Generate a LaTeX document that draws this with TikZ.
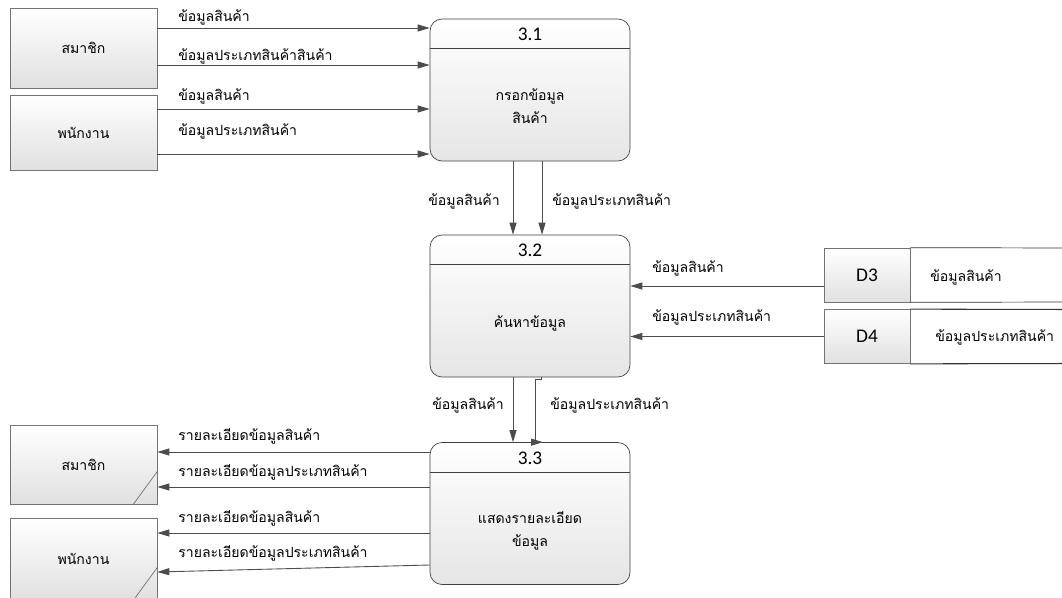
\documentclass[tikz,border=0pt]{standalone}
\usepackage{fontspec}
\setmainfont{Carlito}
\newfontfamily\thai[Script=Thai]{Loma}
\usetikzlibrary{arrows.meta,calc}

\tikzset{
  entity/.style={draw=black!55, top color=white, bottom color=black!12, minimum width=2.94cm, inner sep=0pt, font=\thai\fontsize{8}{10}\selectfont},
  proc/.style={draw=black!75, rounded corners=0.24cm, top color=white, bottom color=black!10, minimum width=4cm, minimum height=2.84cm},
  store/.style={draw=black!55, top color=white, bottom color=black!12, minimum width=1.72cm, minimum height=1.08cm, inner sep=0pt, font=\fontsize{11}{13}\selectfont},
  pnum/.style={font=\fontsize{11}{13}\selectfont, inner sep=0pt},
  ptext/.style={font=\thai\fontsize{8}{13}\selectfont, align=center, inner sep=0pt},
  flow/.style={draw=black!70, line width=0.5pt, -{Triangle[length=0.24cm, width=0.14cm]}},
  lbl/.style={font=\thai\fontsize{8}{10}\selectfont, anchor=west, inner sep=0pt},
}

\begin{document}
\begin{tikzpicture}[x=0.02cm, y=-0.02cm]
  \useasboundingbox (0,0) rectangle (1062,598);

  %%%%% ENTITIES %%%%%
  \node[entity, minimum height=1.6cm] (m1) at (83.5,48) {สมาชิก};
  \node[entity, minimum height=1.5cm] (e1) at (83.5,132.5) {พนักงาน};
  \node[entity, minimum height=1.58cm] (m2) at (83.5,464.5) {สมาชิก};
  \node[entity, minimum height=1.64cm] (e2) at (83.5,559) {พนักงาน};
  \draw[black!55] ($(m2.south east)+(-24,0)$) -- ($(m2.south east)+(0,-33)$);
  \draw[black!55] ($(e2.south east)+(-24,0)$) -- ($(e2.south east)+(0,-33)$);

  %%%%% PROCESSES %%%%%
  \node[proc] (p31) at (530,90) {};
  \node[proc] (p32) at (530,306) {};
  \node[proc] (p33) at (530,513.5) {};
  \foreach \p/\n in {p31/3.1, p32/3.2, p33/3.3} {
    \draw[black!75] ($(\p.north west)+(0,30)$) -- ($(\p.north east)+(0,30)$);
    \node[pnum] at ($(\p.north)+(0,16)$) {\n};
  }
  \node[ptext] (t31) at ($(p31.center)+(0,16)$) {กรอกข้อมูล\\สินค้า};
  \node[ptext] (t32) at ($(p32.center)+(0,17)$) {ค้นหาข้อมูล};
  \node[ptext] (t33) at ($(p33.center)+(0,17)$) {แสดงรายละเอียด\\ข้อมูล};

  %%%%% DATA STORES %%%%%
  \node[store] (d3) at (867,275) {D3};
  \node[store] (d4) at (867,336.5) {D4};
  \draw[black!80] (d3.north east) -- (1070,248) (d3.south east) -- (1070,302);
  \draw[black!80, line width=0.6pt] (d4.north east) -- (1070,309.5) (d4.south east) -- (1070,363.5);
  \node[lbl] (d3t) at (930,277) {ข้อมูลสินค้า};
  \node[lbl] (d4t) at (935,337) {ข้อมูลประเภทสินค้า};

  %%%%% FLOWS INTO 3.1 %%%%%
  \draw[flow] (m1.east |- 0,28) -- (p31.west |- 0,28);
  \draw[flow] (m1.east |- 0,65) -- (p31.west |- 0,65);
  \draw[flow] (e1.east |- 0,109) -- (p31.west |- 0,109);
  \draw[flow] (e1.east |- 0,154) -- (p31.west |- 0,154);
  \node[lbl] at (178,17) {ข้อมูลสินค้า};
  \node[lbl] at (178,56) {ข้อมูลประเภทสินค้าสินค้า};
  \node[lbl] at (178,96) {ข้อมูลสินค้า};
  \node[lbl] at (178,131) {ข้อมูลประเภทสินค้า};

  %%%%% 3.1 -> 3.2 %%%%%
  \draw[flow] (p31.south -| 513,0) -- (p32.north -| 513,0);
  \draw[flow] (p31.south -| 542,0) -- (p32.north -| 542,0);
  \node[lbl] at (428,201) {ข้อมูลสินค้า};
  \node[lbl] at (552,201) {ข้อมูลประเภทสินค้า};

  %%%%% STORES -> 3.2 %%%%%
  \draw[flow] (d3.west |- 0,286) -- (p32.east |- 0,286);
  \draw[flow] (d4.west) -- (p32.east |- d4.west);
  \node[lbl] at (652,268) {ข้อมูลสินค้า};
  \node[lbl] at (652,317) {ข้อมูลประเภทสินค้า};

  %%%%% 3.2 -> 3.3 %%%%%
  \draw[flow] (p32.south -| 513,0) -- (p33.north -| 513,0);
  \draw[flow] (p32.south -| 541,0) -- ++(0,2) -- ++(-6,0) |- (p33.north -| 543,0);
  \node[lbl] at (432,405) {ข้อมูลสินค้า};
  \node[lbl] at (550,405) {ข้อมูลประเภทสินค้า};

  %%%%% 3.3 -> ENTITIES %%%%%
  \draw[flow] (p33.west |- 0,452) -- (m2.east |- 0,452);
  \draw[flow] (p33.west |- 0,487) -- (m2.east |- 0,487);
  \draw[flow] (p33.west |- 0,533) -- (e2.east |- 0,533);
  \draw[flow] (p33.west |- 0,565) -- (e2.east |- 0,572);
  \node[lbl] at (178,436) {รายละเอียดข้อมูลสินค้า};
  \node[lbl] at (178,472) {รายละเอียดข้อมูลประเภทสินค้า};
  \node[lbl] at (178,518) {รายละเอียดข้อมูลสินค้า};
  \node[lbl] at (178,553) {รายละเอียดข้อมูลประเภทสินค้า};
\end{tikzpicture}
\end{document}
